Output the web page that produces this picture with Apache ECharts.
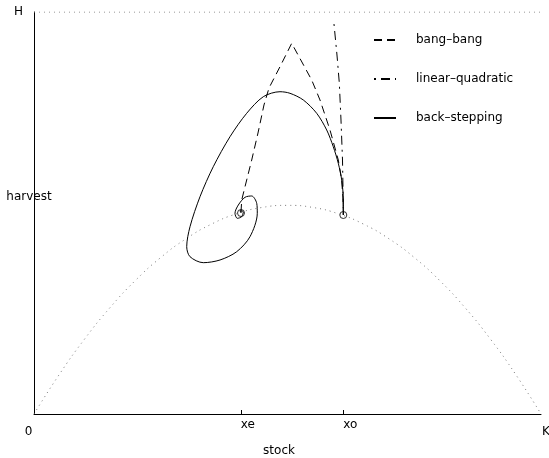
<!DOCTYPE html>
<html><head><meta charset="utf-8">
<script src="https://cdn.jsdelivr.net/npm/echarts@6/dist/echarts.min.js"></script>
<style>html,body{margin:0;padding:0;background:#fff}#c{width:549px;height:458px}</style>
</head><body><div id="c"></div>
<script>
// axis ticks / labels (x in % of K, y in % of H)
const xTickValues = [0, 40.8, 61.0, 100];
const xTickLabels = ['0', 'xe', 'xo', 'K'];
const yTickValues = [100];
const yTickLabels = ['H'];
const xAxisName = 'stock';
const yAxisName = 'harvest';
const seriesNames = ['bang\u2013bang', 'linear\u2013quadratic', 'back\u2013stepping'];

// sustainable yield curve (dotted parabola)
const yieldX = [0, 5, 10, 15, 20, 25, 30, 35, 40, 45, 50, 55, 60, 65, 70, 75, 80, 85, 90, 95, 100];
const yieldY = [0, 9.86, 18.68, 26.47, 33.22, 38.93, 43.60, 47.23, 49.82, 51.38, 51.90, 51.38, 49.82, 47.23, 43.60, 38.93, 33.22, 26.47, 18.68, 9.86, 0];
// capacity line H
const capX = [0, 100];
const capY = [100, 100];

// bang-bang path (from xo up to the peak, then down to xe)
const bangX = [61.01, 60.95, 60.69, 60.02, 58.38, 56.41, 54.77, 50.83, 48.52, 46.35, 45.36, 44.18, 42.94, 41.62, 40.97, 40.83];
const bangY = [49.50, 53.23, 58.21, 63.18, 70.65, 78.11, 83.08, 92.21, 86.39, 81.09, 76.87, 69.90, 63.18, 56.54, 53.23, 50.25];

// linear-quadratic path
const lqX = [59.17, 59.76, 60.22, 60.55, 60.85, 60.95, 61.01];
const lqY = [97.01, 89.30, 82.34, 73.13, 63.18, 55.72, 49.50];

// back-stepping path
const bsX = [61.01, 61.01, 60.69, 60.02, 59.03, 57.73, 55.76, 53.12, 50.49, 48.52, 45.23, 41.95, 38.66, 35.36, 32.74, 30.77, 30.12, 30.77, 33.39, 36.69, 39.98, 42.60, 44.04, 43.93, 42.94, 41.62, 40.30, 39.64, 40.10, 40.97, 41.28, 40.63, 40.83];
const bsY = [49.50, 53.23, 58.21, 62.36, 66.49, 70.65, 74.80, 78.11, 79.78, 80.17, 78.93, 74.80, 68.98, 61.52, 54.05, 46.59, 41.62, 39.13, 37.64, 38.31, 40.37, 44.10, 49.93, 52.41, 54.23, 53.91, 51.99, 49.93, 48.68, 49.08, 50.32, 50.57, 50.00];

// equilibrium points (xe, xo)
const eqX = [40.83, 61.01];
const eqY = [50.0, 49.5];

const zip = (xs, ys) => xs.map((x, i) => [x, ys[i]]);
const FONT = 'DejaVu Sans';
const richKeys = ['z', 'l', 'l', 'k'];

const chart = echarts.init(document.getElementById('c'), null, {renderer: 'canvas'});
chart.setOption({
  animation: false,
  backgroundColor: '#fff',
  grid: {left: 34, right: 8, top: 12, bottom: 44, containLabel: false, outerBoundsMode: 'none'},
  legend: {
    data: seriesNames,
    orient: 'vertical',
    left: 373, top: 34, padding: 0,
    itemWidth: 22, itemHeight: 14, itemGap: 27,
    itemStyle: {color: 'rgba(0,0,0,0)', borderColor: 'rgba(0,0,0,0)', borderWidth: 0},
    textStyle: {fontFamily: FONT, fontSize: 12, color: '#000', padding: [0, 0, 0, 15]}
  },
  xAxis: {
    type: 'value', min: 0, max: 100,
    name: xAxisName, nameLocation: 'middle', nameGap: 31, nameMoveOverlap: false,
    nameTextStyle: {fontFamily: FONT, fontSize: 12, color: '#000', padding: [0, 17, 0, 0]},
    axisLine: {show: true, onZero: false, lineStyle: {color: '#000', width: 1}},
    axisTick: {show: true, inside: true, length: 4, customValues: xTickValues.slice(1, 3), lineStyle: {color: '#000'}},
    splitLine: {show: false},
    axisLabel: {
      customValues: xTickValues, margin: 5, align: 'center',
      fontFamily: FONT, fontSize: 12, color: '#000',
      formatter: (v) => {
        const i = xTickValues.indexOf(v);
        return i < 0 ? '' : '{' + richKeys[i] + '|' + xTickLabels[i] + '}';
      },
      rich: {
        z: {fontFamily: FONT, fontSize: 12, color: '#000', padding: [7, 11, 0, 0]},
        l: {fontFamily: FONT, fontSize: 12, color: '#000', padding: [0, 0, 0, 14]},
        k: {fontFamily: FONT, fontSize: 12, color: '#000', padding: [7, 0, 0, 10]}
      }
    }
  },
  yAxis: {
    type: 'value', min: 0, max: 100,
    name: '{h|' + yAxisName + '}', nameLocation: 'middle', nameGap: 5, nameRotate: 0, nameMoveOverlap: false,
    nameTextStyle: {
      fontFamily: FONT, fontSize: 12, color: '#000', align: 'center',
      rich: {h: {fontFamily: FONT, fontSize: 12, color: '#000', padding: [0, 0, 33, 0]}}
    },
    axisLine: {show: true, onZero: false, lineStyle: {color: '#000', width: 1}},
    axisTick: {show: false},
    splitLine: {show: false},
    axisLabel: {
      customValues: yTickValues, margin: 11,
      fontFamily: FONT, fontSize: 12, color: '#000',
      formatter: (v) => {
        const i = yTickValues.indexOf(v);
        return i < 0 ? '' : yTickLabels[i];
      }
    }
  },
  series: [
    {name: 'yield', type: 'line', data: zip(yieldX, yieldY), symbol: 'none', smooth: true, silent: true,
     lineStyle: {color: '#777', width: 1, type: [1, 4]}},
    {name: 'cap', type: 'line', data: zip(capX, capY), symbol: 'none', silent: true,
     lineStyle: {color: '#777', width: 1, type: [1, 4]}},
    {name: seriesNames[0], type: 'line', data: zip(bangX, bangY), symbol: 'none',
     lineStyle: {color: '#000', width: 1, type: [8, 5]}, itemStyle: {color: '#000'}},
    {name: seriesNames[1], type: 'line', data: zip(lqX, lqY), symbol: 'none',
     lineStyle: {color: '#000', width: 1, type: [2, 5, 9, 5]}, itemStyle: {color: '#000'}},
    {name: seriesNames[2], type: 'line', data: zip(bsX, bsY), symbol: 'none', smooth: 0.3,
     lineStyle: {color: '#000', width: 1, type: 'solid'}, itemStyle: {color: '#000'}},
    {name: 'equilibria', type: 'scatter', data: zip(eqX, eqY), symbol: 'circle', symbolSize: 7,
     itemStyle: {color: 'rgba(0,0,0,0)', borderColor: '#000', borderWidth: 1}}
  ]
});
</script></body></html>
